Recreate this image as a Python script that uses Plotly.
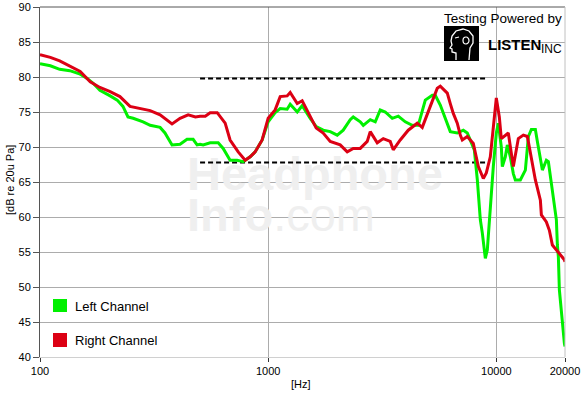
import math
import plotly.graph_objects as go

# ---------------- data ----------------
right_freq = [100, 111, 122, 135, 150, 166, 183, 203, 224, 248, 275, 304, 336, 379, 411, 446, 480, 503, 530,
              557, 598, 648, 681, 739, 793, 834, 877, 941, 1000, 1073, 1129, 1211, 1249, 1341, 1410, 1529,
              1624, 1743, 1871, 2069, 2221, 2360, 2533, 2718, 2802, 3007, 3195, 3428, 3534, 3793, 4111, 4502,
              4736, 5135, 5511, 5681, 6097, 6284, 6478, 6743, 6952, 7095, 7462, 7928, 8340, 8771, 9040, 9412,
              9799, 10000, 10308, 10517, 11288, 11635, 11872, 12488, 13135, 13680, 14244, 14831, 15598, 15756,
              16571, 17082, 17607, 18332, 19087, 19870, 20000]
right_db = [83.2, 82.8, 82.3, 81.6, 80.8, 79.3, 78.5, 77.9, 77.2, 75.8, 75.5, 75.2, 74.6, 73.3, 74.1, 74.6, 74.3, 74.4, 74.4,
            74.9, 74.9, 73.4, 71.0, 69.3, 68.1, 68.6, 69.3, 71.0, 74.1, 75.3, 77.2, 77.3, 77.8, 76.2, 76.6, 74.3,
            72.7, 72.0, 70.8, 70.3, 69.3, 69.8, 69.8, 70.8, 72.2, 70.6, 71.2, 70.8, 69.6, 71.0, 72.4, 73.4,
            72.8, 75.8, 78.4, 78.7, 77.7, 76.2, 74.8, 73.4, 71.7, 71.0, 71.5, 70.5, 67.2, 65.5, 66.3, 68.6,
            73.9, 77.0, 74.3, 71.2, 72.0, 68.9, 67.2, 71.2, 71.7, 71.5, 68.4, 65.3, 62.4, 60.3,
            59.3, 58.1, 56.0, 55.3, 54.6, 53.9, 53.6]

left_freq = [100, 111, 122, 135, 150, 161, 171, 183, 203, 218, 231, 243, 256, 283, 304, 336, 353, 379, 411, 441,
             469, 488, 503, 519, 557, 604, 635, 681, 731, 777, 834, 877, 941, 1000, 1073, 1129, 1211, 1249, 1341,
             1410, 1529, 1624, 1743, 1871, 2008, 2133, 2289, 2360, 2533, 2611, 2802, 2947, 3099, 3260, 3499,
             3717, 3990, 4280, 4548, 4883, 5240, 5401, 5681, 5975, 6284, 6743, 7167, 7462, 7691, 8009, 8256,
             8510, 8684, 8860, 8950, 9131, 9318, 9412, 9701, 10000, 10204, 10517, 10624, 10951, 11175, 11518,
             11872, 12115, 12743, 13406, 13819, 14244, 14831, 15133, 15598, 15916, 16571, 16909, 17430, 17965,
             18332, 18517, 18705, 18895, 19279, 19475, 19870, 20000]
left_db = [81.9, 81.6, 81.1, 80.9, 80.4, 79.8, 79.1, 78.1, 77.3, 76.7, 75.8, 74.3, 74.1, 73.6, 73.1, 72.8, 72.0, 70.3, 70.4, 71.1,
           71.1, 70.3, 70.4, 70.3, 70.6, 70.6, 69.8, 68.1, 68.1, 67.9, 68.6, 69.3, 71.0, 73.6, 74.9, 75.5, 75.4, 76.1, 75.0,
           75.9, 74.1, 72.9, 72.4, 72.2, 71.7, 72.4, 73.9, 74.3, 73.6, 73.1, 73.9, 73.6, 75.3, 75.0, 74.1,
           74.4, 73.6, 73.1, 73.1, 76.7, 77.4, 77.4, 76.0, 74.1, 72.2, 72.0, 72.4, 72.0, 71.0, 69.6, 65.3,
           59.6, 57.7, 55.3, 54.1, 55.3, 59.6, 62.0, 67.2, 72.0, 73.4, 70.0, 67.2, 68.6, 70.3, 68.6,
           66.2, 65.3, 65.3, 66.7, 71.5, 72.5, 72.5, 70.8, 68.1, 66.7, 68.1, 67.9, 64.8, 62.0,
           59.6, 56.0, 54.3, 49.6, 46.2, 44.3, 42.0, 41.5]

ref_freq = [503, 9040]
upper_ref_db = [79.8, 79.8]
lower_ref_db = [67.8, 67.8]

x_tickvals = [100, 1000, 10000, 20000]
x_ticktext = ["100", "1000", "10000", "20000"]
series_names = ["Left Channel", "Right Channel"]

# ---------------- style ----------------
GREEN = "#00f000"
RED = "#dc0014"
FONT = "Liberation Sans, Arial, sans-serif"
W, H = 583, 395
ML, MR, MT, MB = 40, 18, 7, 38
PW, PH = W - ML - MR, H - MT - MB


def px(x):
    return (x - ML) / PW


def py(y):
    return (H - MB - y) / PH


fig = go.Figure()

# watermark (drawn first so it sits under the curves)
fig.add_trace(go.Scatter(
    x=[441, 441], y=[65.6, 59.7], mode="text",
    text=["<b>Headphone</b>", "<b>Info</b>.com"],
    textposition="middle right",
    textfont=dict(family=FONT, size=47, color="#efefef"),
    hoverinfo="skip", showlegend=False))

fig.add_trace(go.Scatter(x=ref_freq, y=upper_ref_db, mode="lines",
                         line=dict(color="black", width=2, dash="5px,3px"),
                         hoverinfo="skip", showlegend=False))
fig.add_trace(go.Scatter(x=ref_freq, y=lower_ref_db, mode="lines",
                         line=dict(color="black", width=2, dash="5px,3px"),
                         hoverinfo="skip", showlegend=False))

fig.add_trace(go.Scatter(x=left_freq, y=left_db, mode="lines", name=series_names[0],
                         line=dict(color=GREEN, width=3), showlegend=False))
fig.add_trace(go.Scatter(x=right_freq, y=right_db, mode="lines", name=series_names[1],
                         line=dict(color=RED, width=3), showlegend=False))

shapes = []
# top border and right border
shapes.append(dict(type="line", xref="paper", yref="paper", x0=0, x1=1, y0=1, y1=1,
                   line=dict(color="#555555", width=1)))
shapes.append(dict(type="line", xref="paper", yref="paper", x0=1, x1=1, y0=0, y1=1,
                   line=dict(color="#c0c0c0", width=1)))

# legend swatches
shapes.append(dict(type="rect", xref="paper", yref="paper", x0=px(53), x1=px(67), y0=py(312), y1=py(299),
                   fillcolor=GREEN, line=dict(width=0)))
shapes.append(dict(type="rect", xref="paper", yref="paper", x0=px(53), x1=px(67), y0=py(347), y1=py(333),
                   fillcolor=RED, line=dict(width=0)))

# LISTEN head icon
shapes.append(dict(type="rect", xref="paper", yref="paper", x0=px(444), x1=px(479), y0=py(61), y1=py(26),
                   fillcolor="black", line=dict(width=0)))
head_pts = [(12, 34), (12, 27), (8, 26), (8, 23), (6, 22), (8, 19), (7, 15), (8, 10), (12, 5), (19, 3),
            (25, 5), (29, 10), (29, 17), (26, 22), (25, 34)]
path = "M " + " L ".join(f"{px(444 + a):.5f},{py(26 + b):.5f}" for a, b in head_pts)
shapes.append(dict(type="path", xref="paper", yref="paper", path=path,
                   line=dict(color="white", width=1.3)))
shapes.append(dict(type="circle", xref="paper", yref="paper", x0=px(444 + 19), x1=px(444 + 25),
                   y0=py(26 + 18), y1=py(26 + 11), line=dict(color="white", width=1.2)))
shapes.append(dict(type="path", xref="paper", yref="paper",
                   path=f"M {px(455):.5f},{py(38):.5f} L {px(459):.5f},{py(37):.5f}",
                   line=dict(color="white", width=1.2)))

annotations = [
    dict(text="Left Channel", xref="paper", yref="paper", x=px(73), y=py(306), xanchor="left",
         yanchor="middle", showarrow=False, font=dict(family=FONT, size=13, color="black")),
    dict(text="Right Channel", xref="paper", yref="paper", x=px(73), y=py(340), xanchor="left",
         yanchor="middle", showarrow=False, font=dict(family=FONT, size=13, color="black")),
    dict(text="Testing Powered by", xref="paper", yref="paper", x=px(564), y=py(19), xanchor="right",
         yanchor="middle", showarrow=False, font=dict(family=FONT, size=13.5, color="black")),
    dict(text="<b>LISTEN</b>", xref="paper", yref="paper", x=px(486), y=py(45), xanchor="left",
         yanchor="middle", showarrow=False,
         font=dict(family=FONT, size=15, color="black")),
    dict(text="INC", xref="paper", yref="paper", x=px(564), y=py(49), xanchor="right",
         yanchor="middle", showarrow=False,
         font=dict(family=FONT, size=12, color="black")),
    dict(text="[dB re 20u Pa]", xref="paper", yref="paper", x=px(10), y=py(180), xanchor="center",
         yanchor="middle", textangle=-90, showarrow=False, font=dict(family=FONT, size=11, color="black")),
    dict(text="[Hz]", xref="paper", yref="paper", x=px(301), y=py(384), xanchor="center",
         yanchor="middle", showarrow=False, font=dict(family=FONT, size=11, color="black")),
]

fig.update_layout(
    width=W, height=H,
    margin=dict(l=ML, r=MR, t=MT, b=MB, pad=0),
    paper_bgcolor="white", plot_bgcolor="white",
    showlegend=False,
    font=dict(family=FONT, size=11, color="black"),
    shapes=shapes, annotations=annotations,
    xaxis=dict(type="log", range=[2, math.log10(20000)], tickvals=x_tickvals, ticktext=x_ticktext,
               showgrid=True, gridcolor="#acacac", gridwidth=1, zeroline=False,
               showline=True, linecolor="#d0d0d0", linewidth=1,
               ticks="outside", ticklen=4, tickcolor="#333333", tickwidth=1,
               tickfont=dict(family=FONT, size=11, color="black"), automargin=False),
    yaxis=dict(range=[40, 90], dtick=5, tick0=40,
               showgrid=True, gridcolor="#acacac", gridwidth=1, zeroline=False,
               showline=True, linecolor="#555555", linewidth=1,
               ticks="outside", ticklen=6, tickcolor="#555555", tickwidth=1,
               tickfont=dict(family=FONT, size=11, color="black"), automargin=False),
)

fig.write_html("out.html")
